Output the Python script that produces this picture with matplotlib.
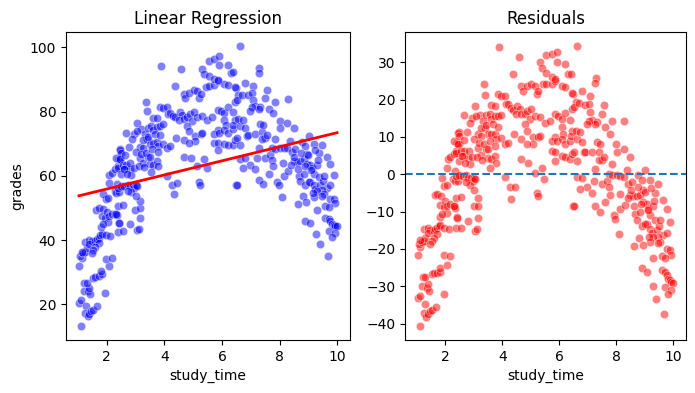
import numpy as np
import matplotlib
matplotlib.use("Agg")
import matplotlib.pyplot as plt

study_time = [
    1.10, 1.03, 1.10, 1.28, 1.24, 1.33, 1.39, 1.45, 1.53, 1.67,
    1.19, 1.35, 1.41, 1.39, 1.20, 1.30, 1.53, 1.59, 1.71, 1.82,
    1.80, 1.94, 2.06, 1.96, 2.18, 1.03, 1.12, 1.08, 1.18, 1.24,
    1.30, 1.12, 1.24, 1.38, 1.47, 1.38, 1.59, 1.65, 1.71, 1.77,
    1.71, 1.59, 1.53, 1.47, 1.82, 1.80, 1.62, 1.71, 1.85, 1.82,
    1.94, 2.04, 2.00, 2.06, 1.88, 1.96, 2.12, 2.18, 2.29, 2.35,
    2.41, 1.96, 1.88, 2.04, 2.06, 2.09, 2.18, 2.29, 2.38, 2.47,
    2.41, 2.47, 2.27, 2.33, 2.43, 2.49, 2.35,
    2.32, 2.44, 2.49, 2.46, 2.38, 2.55, 2.67, 2.61, 2.79, 2.85,
    2.49, 2.38, 2.49, 2.61, 2.73, 2.79, 2.91, 2.96, 2.85, 2.73,
    3.02, 3.05, 2.38, 2.55, 2.32, 2.41, 2.38, 2.55, 2.79, 2.99,
    3.14, 3.16, 3.00, 3.05, 3.12, 3.14, 2.67, 2.93, 3.05, 3.20,
    3.32, 3.44, 3.55, 3.61, 3.73, 3.85, 3.94, 3.35, 3.40, 3.61,
    3.73, 3.85, 3.96, 4.08, 4.14, 3.88, 4.38, 4.59, 4.20, 4.29,
    4.38, 4.53, 4.61, 4.49, 4.67, 4.79, 4.88, 5.02, 3.38, 3.49,
    3.61, 3.73, 3.79, 3.96, 4.08, 4.20, 4.41, 4.67, 3.14, 3.26,
    3.16, 3.26, 3.44, 3.49, 3.61, 3.73, 3.79, 3.55, 4.08, 4.26,
    4.44, 4.32, 4.67, 4.91, 5.14, 5.20, 5.24, 5.47, 4.67, 4.73,
    4.85, 5.02, 5.14, 5.20, 5.26, 5.44, 5.55, 5.73, 5.85, 6.08,
    6.20, 6.49, 5.32, 5.38, 5.55, 5.73, 5.85, 5.55, 5.73, 5.91,
    5.91, 6.20, 6.32, 4.96, 5.14, 5.32, 5.49, 5.67, 5.85, 5.96,
    6.08, 6.20, 6.38, 6.46, 6.08, 6.14, 5.85, 5.73, 5.91, 6.08,
    6.20, 6.38, 6.44, 4.79, 4.85, 5.08, 5.26, 5.32, 5.08, 4.85,
    5.73, 5.85, 5.85, 6.08, 6.20, 6.38, 6.46, 6.49, 5.38,
    6.63, 6.40, 6.45, 6.57, 6.51, 6.69, 6.80, 7.09, 7.30, 7.27,
    6.92, 7.03, 7.09, 7.15, 7.33, 7.50, 7.56, 7.62, 7.79, 7.85,
    8.29, 7.27, 7.03, 6.98, 6.40, 6.57, 6.63, 6.74, 6.80, 6.86,
    6.92, 6.51, 6.63, 7.15, 7.38, 7.33, 7.44, 7.50, 7.38, 7.56,
    7.85, 8.00, 8.02, 8.26, 8.49, 6.63, 6.80, 6.98, 6.74, 7.15,
    7.27, 7.21, 6.51, 7.27, 7.44, 7.62, 7.50, 7.67, 7.73, 7.79,
    7.73, 7.85, 8.02, 8.14, 8.26, 8.37, 8.43, 8.55, 8.49, 8.60,
    8.72, 8.84, 8.78, 8.90, 9.01, 9.19, 8.95, 9.36, 7.91, 7.97,
    8.08, 8.14, 8.31, 8.12, 8.66, 8.72, 8.84, 8.90, 8.95, 9.07,
    9.13, 9.19, 9.30, 9.36, 9.07, 9.01, 9.19, 9.24, 9.42, 9.51,
    9.53, 9.65, 9.77, 9.88, 9.65, 9.77, 9.48, 9.30, 9.19, 9.16,
    8.81, 8.93, 8.63, 9.53, 9.48, 9.77, 9.88, 9.94, 9.59, 9.71,
    9.30, 8.90, 9.07, 9.28, 9.40, 9.59, 9.71, 9.77, 9.83, 9.88,
    9.94, 10.00, 9.71, 9.94, 9.83, 9.69,
    2.58, 2.64, 2.70, 2.76, 2.82, 2.88, 2.94, 3.00, 3.06, 3.10,
    3.18, 3.24, 3.30, 3.36, 3.42, 3.50, 3.58, 3.66, 3.76, 3.86,
    8.40, 8.52, 8.64, 8.76, 8.88, 9.00, 9.10, 9.22, 9.34, 9.46,
]

grades = [
    13.3, 20.5, 21.3, 19.6, 17.2, 16.3, 17.1, 18.1, 18.4, 19.6,
    24.1, 24.1, 23.3, 25.1, 26.6, 26.8, 28.1, 28.6, 28.9, 29.4,
    30.4, 23.6, 31.8, 34.2, 34.4, 32.1, 34.5, 35.1, 36.0, 36.4,
    37.4, 36.3, 39.5, 40.1, 39.7, 38.9, 39.7, 40.4, 40.8, 41.5,
    39.2, 38.0, 37.0, 36.0, 42.0, 44.0, 49.4, 49.9, 49.7, 47.4,
    47.0, 45.6, 48.7, 47.5, 45.1, 41.5, 41.4, 48.2, 48.0, 47.7,
    45.4, 52.7, 54.5, 53.2, 57.8, 60.3, 60.8, 62.0, 62.9, 64.9,
    65.3, 68.3, 55.3, 54.8, 55.0, 56.5, 57.5,
    65.5, 67.9, 67.1, 65.1, 62.5, 63.3, 63.5, 62.1, 62.1, 60.4,
    60.5, 56.3, 56.7, 56.8, 57.3, 56.7, 56.8, 56.2, 55.0, 55.3,
    57.2, 56.9, 50.5, 50.9, 48.1, 45.2, 42.4, 42.7, 45.1, 49.5,
    49.9, 52.2, 53.8, 43.0, 43.6, 46.8, 73.2, 73.0, 76.5, 74.5,
    73.1, 75.0, 75.5, 74.1, 75.3, 75.6, 76.1, 83.0, 80.2, 78.1,
    78.0, 81.4, 81.1, 81.4, 79.3, 94.1, 88.0, 93.1, 79.4, 78.7,
    78.2, 79.8, 79.0, 77.4, 77.8, 78.2, 79.1, 79.9, 71.4, 69.9,
    70.1, 70.4, 69.2, 70.0, 68.5, 69.2, 71.9, 71.2, 69.1, 68.8,
    65.5, 63.9, 65.7, 63.6, 63.4, 64.6, 62.9, 61.1, 59.8, 57.3,
    57.9, 54.3, 65.8, 65.4, 63.2, 58.0, 57.2, 62.3, 85.4, 84.2,
    85.8, 86.7, 86.4, 84.3, 85.4, 87.6, 87.8, 88.3, 89.4, 88.5,
    88.4, 87.2, 93.1, 91.8, 90.9, 90.1, 89.8, 95.6, 96.2, 97.3,
    94.6, 94.6, 92.1, 77.1, 78.4, 78.5, 77.4, 78.3, 80.4, 80.2,
    79.6, 81.4, 79.9, 83.1, 77.4, 75.7, 74.2, 73.0, 73.4, 74.3,
    73.2, 74.5, 77.3, 75.4, 73.8, 72.5, 72.9, 73.4, 70.7, 70.2,
    70.3, 70.2, 68.0, 69.8, 69.7, 69.6, 71.0, 57.1, 65.1,
    100.4, 92.3, 87.5, 85.2, 83.7, 85.2, 88.8, 88.0, 93.4, 92.0,
    85.1, 85.7, 83.6, 81.6, 81.5, 84.1, 86.6, 80.8, 79.4, 83.1,
    83.9, 80.9, 81.3, 80.3, 75.8, 77.6, 75.5, 77.5, 75.0, 72.4,
    72.6, 71.7, 69.7, 73.1, 73.6, 76.2, 75.9, 71.7, 71.4, 72.7,
    71.5, 77.2, 75.0, 76.4, 74.8, 65.2, 65.4, 63.3, 62.4, 62.1,
    68.8, 65.6, 57.2, 58.8, 57.6, 60.7, 65.4, 66.6, 65.0, 62.9,
    68.6, 68.4, 68.8, 68.8, 68.8, 70.9, 67.4, 68.2, 64.5, 64.4,
    64.7, 65.2, 70.5, 69.4, 72.3, 70.0, 66.8, 67.0, 58.0, 57.1,
    53.3, 60.1, 61.4, 64.1, 59.9, 58.3, 60.7, 57.1, 63.7, 63.5,
    62.3, 60.7, 63.4, 59.7, 58.1, 58.0, 57.1, 56.0, 57.1, 58.4,
    60.1, 65.7, 63.7, 60.4, 56.3, 57.1, 55.6, 55.2, 53.5, 54.8,
    53.6, 52.0, 51.2, 54.3, 53.8, 52.8, 52.8, 51.7, 50.6, 50.4,
    49.5, 45.8, 45.2, 42.0, 38.8, 46.8, 46.7, 45.9, 45.1, 44.8,
    44.5, 44.4, 42.7, 42.3, 40.9, 35.2,
    62.0, 66.5, 60.5, 69.0, 64.0, 71.5, 62.5, 67.5, 73.8, 63.0,
    66.8, 71.0, 62.6, 67.0, 72.2, 66.0, 68.2, 73.0, 67.4, 72.6,
    63.5, 66.0, 62.0, 67.2, 63.0, 66.5, 61.8, 68.0, 64.8, 69.5,
]

x = np.array(study_time)
y = np.array(grades)
slope, intercept = np.polyfit(x, y, 1)
fitted = intercept + slope * x
residuals = y - fitted
xline = np.array([x.min(), x.max()])

fig = plt.figure(figsize=(6.95, 3.93), dpi=100)
ax1 = fig.add_axes([0.095, 0.135, 0.4086, 0.7837])
ax2 = fig.add_axes([0.5827, 0.135, 0.4043, 0.7837])

ax1.scatter(x, y, s=36, c="blue", alpha=0.5, edgecolors="white", linewidths=0.48)
ax1.plot(xline, intercept + slope * xline, color="red", linewidth=2)
ax1.set_title("Linear Regression")
ax1.set_xlabel("study_time")
ax1.set_ylabel("grades")
ax1.set_xticks([2, 4, 6, 8, 10])
ax1.set_yticks([20, 40, 60, 80, 100])

ax2.scatter(x, residuals, s=36, c="red", alpha=0.5, edgecolors="white", linewidths=0.48)
ax2.axhline(0, color="#1f77b4", linestyle="--")
ax2.set_title("Residuals")
ax2.set_xlabel("study_time")
ax2.set_xticks([2, 4, 6, 8, 10])
ax2.set_yticks([-40, -30, -20, -10, 0, 10, 20, 30])

fig.savefig("out.png", dpi=100)
